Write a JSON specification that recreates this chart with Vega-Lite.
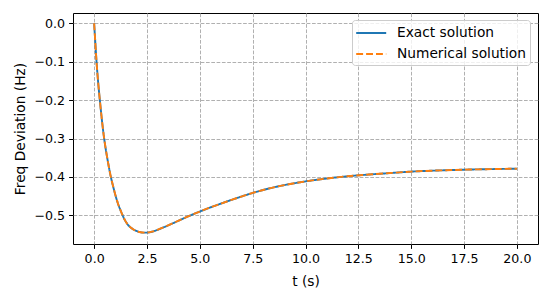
{
  "$schema": "https://vega.github.io/schema/vega-lite/v6.json",
  "width": 465,
  "height": 231,
  "autosize": "none",
  "padding": {"left": 73, "top": 13, "right": 13, "bottom": 53},
  "background": "white",
  "config": {
    "font": "DejaVu Sans",
    "view": {"stroke": "black", "strokeWidth": 1},
    "axis": {
      "domain": false,
      "labelFont": "DejaVu Sans",
      "labelFontSize": 12.6,
      "labelColor": "black",
      "tickColor": "black",
      "tickSize": 4.4,
      "tickWidth": 1,
      "labelPadding": 4,
      "titleFont": "DejaVu Sans",
      "titleFontSize": 13.75,
      "titleFontWeight": "normal",
      "titleColor": "black",
      "grid": true,
      "gridColor": "#b0b0b0",
      "gridWidth": 1,
      "gridDash": [3.7, 1.6]
    },
    "legend": {
      "labelFont": "DejaVu Sans",
      "labelFontSize": 13.75,
      "labelColor": "black"
    }
  },
  "data": {
    "values": [
      {"t": 0, "y": 0},
      {"t": 0.05, "y": -0.045},
      {"t": 0.113, "y": -0.1},
      {"t": 0.2, "y": -0.16},
      {"t": 0.27, "y": -0.2},
      {"t": 0.35, "y": -0.243},
      {"t": 0.45, "y": -0.29},
      {"t": 0.55, "y": -0.328},
      {"t": 0.65, "y": -0.36},
      {"t": 0.79, "y": -0.4},
      {"t": 0.9, "y": -0.425},
      {"t": 1.03, "y": -0.452},
      {"t": 1.15, "y": -0.473},
      {"t": 1.25, "y": -0.487},
      {"t": 1.34, "y": -0.499},
      {"t": 1.45, "y": -0.512},
      {"t": 1.55, "y": -0.521},
      {"t": 1.7, "y": -0.5305},
      {"t": 1.85, "y": -0.5365},
      {"t": 2.0, "y": -0.5408},
      {"t": 2.2, "y": -0.5441},
      {"t": 2.4, "y": -0.5452},
      {"t": 2.6, "y": -0.5443},
      {"t": 2.8, "y": -0.5417},
      {"t": 3.0, "y": -0.5378},
      {"t": 3.25, "y": -0.5322},
      {"t": 3.5, "y": -0.5263},
      {"t": 3.75, "y": -0.5201},
      {"t": 4.0, "y": -0.5138},
      {"t": 4.5, "y": -0.5015},
      {"t": 5.0, "y": -0.4902},
      {"t": 5.5, "y": -0.4795},
      {"t": 6.0, "y": -0.4695},
      {"t": 6.5, "y": -0.4598},
      {"t": 7.0, "y": -0.4505},
      {"t": 7.5, "y": -0.4418},
      {"t": 8.0, "y": -0.4340},
      {"t": 8.5, "y": -0.4272},
      {"t": 9.0, "y": -0.4213},
      {"t": 9.5, "y": -0.4162},
      {"t": 10.0, "y": -0.4117},
      {"t": 11.0, "y": -0.4042},
      {"t": 12.0, "y": -0.3983},
      {"t": 13.0, "y": -0.3938},
      {"t": 14.0, "y": -0.3900},
      {"t": 15.0, "y": -0.3862},
      {"t": 16.0, "y": -0.3838},
      {"t": 17.0, "y": -0.3820},
      {"t": 18.0, "y": -0.3805},
      {"t": 19.0, "y": -0.3795},
      {"t": 20.0, "y": -0.3786}
    ]
  },
  "transform": [
    {"calculate": "'Exact solution'", "as": "s1"},
    {"calculate": "'Numerical solution'", "as": "s2"},
    {"fold": ["s1", "s2"], "as": ["k", "series"]}
  ],
  "mark": {"type": "line", "strokeWidth": 1.9, "clip": true, "interpolate": "monotone"},
  "encoding": {
    "x": {
      "field": "t",
      "type": "quantitative",
      "scale": {"domain": [-1, 21], "nice": false, "zero": false},
      "axis": {"values": [0, 2.5, 5, 7.5, 10, 12.5, 15, 17.5, 20], "format": ".1f", "title": "t (s)", "titlePadding": 9}
    },
    "y": {
      "field": "y",
      "type": "quantitative",
      "scale": {"domain": [-0.5747, 0.0268], "nice": false, "zero": false},
      "axis": {"values": [0, -0.1, -0.2, -0.3, -0.4, -0.5], "format": ".1f", "title": "Freq Deviation (Hz)", "titlePadding": 7}
    },
    "color": {
      "field": "series",
      "type": "nominal",
      "scale": {"domain": ["Exact solution", "Numerical solution"], "range": ["#1f77b4", "#ff7f0e"]},
      "legend": {
        "title": null,
        "orient": "none",
        "legendX": 279,
        "legendY": 7,
        "symbolType": "M-1.1,0H2.65",
        "symbolSize": 256,
        "symbolStrokeWidth": 1.9,
        "symbolFillColor": "transparent",
        "labelOffset": 23,
        "rowPadding": 5,
        "padding": 4,
        "strokeColor": "#cccccc",
        "fillColor": "rgba(255,255,255,0.8)",
        "cornerRadius": 3
      }
    },
    "strokeDash": {
      "field": "series",
      "type": "nominal",
      "scale": {"domain": ["Exact solution", "Numerical solution"], "range": [[1, 0], [6.9, 3]]},
      "legend": null
    }
  }
}
